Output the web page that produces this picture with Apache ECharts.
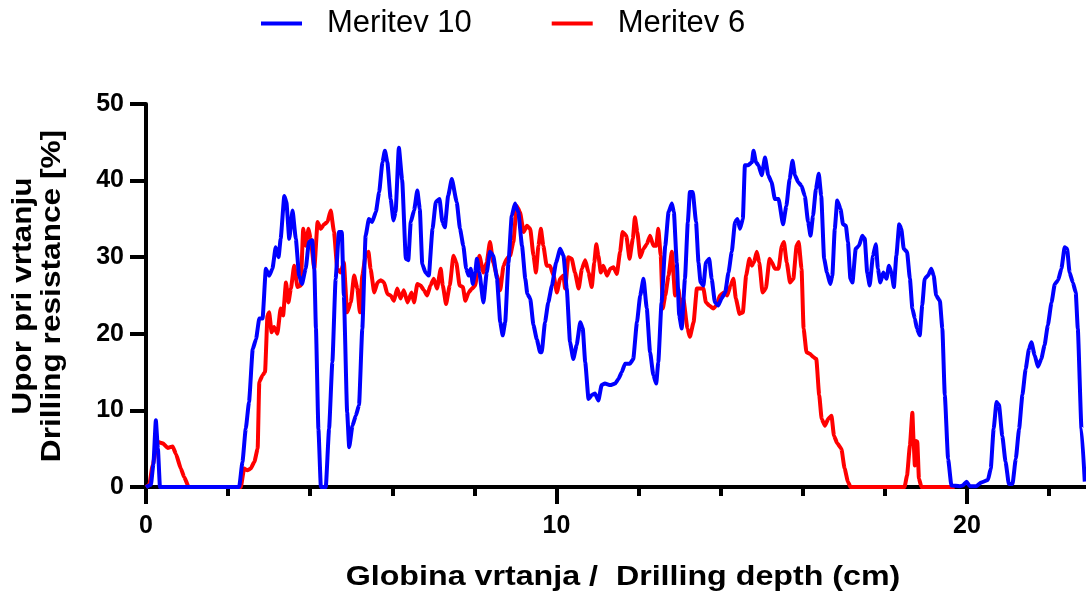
<!DOCTYPE html>
<html>
<head>
<meta charset="utf-8">
<script src="https://cdn.jsdelivr.net/npm/echarts@6/dist/echarts.min.js"></script>
<style>html,body{margin:0;padding:0;background:#fff}#c{width:1086px;height:597px}</style>
</head>
<body>
<div id="c"></div>
<script>
const seriesNames = ['Meritev 10', 'Meritev 6'];
const xMajorTicks = [0, 10, 20];
const xMinorTicks = [2, 4, 6, 8, 12, 14, 16, 18, 22];
const depth10 = [0,0.12,0.18,0.24,0.29,0.34,2.27,2.35,2.43,2.51,2.6,2.68,2.76,2.84,2.92,3.0,3.08,3.16,3.23,3.28,3.37,3.42,3.49,3.57,3.65,3.73,3.8,3.89,3.97,4.05,4.1,4.14,4.2,4.26,4.38,4.46,4.54,4.62,4.7,4.77,4.82,4.9,4.95,5.03,5.11,5.19,5.27,5.35,5.43,5.51,5.6,5.68,5.76,5.82,5.88,5.96,6.03,6.08,6.16,6.24,6.33,6.39,6.45,6.53,6.61,6.67,6.73,6.81,6.89,6.98,7.06,7.15,7.22,7.28,7.36,7.45,7.57,7.65,7.73,7.8,7.86,7.91,7.96,8.02,8.06,8.12,8.22,8.3,8.38,8.46,8.55,8.63,8.69,8.75,8.83,8.91,8.99,9.07,9.16,9.24,9.29,9.36,9.44,9.52,9.6,9.64,9.72,9.8,9.89,9.99,10.09,10.17,10.25,10.33,10.41,10.49,10.58,10.64,10.7,10.78,10.86,10.94,11.02,11.1,11.18,11.31,11.43,11.51,11.59,11.67,11.79,11.87,11.96,12.04,12.12,12.2,12.28,12.36,12.43,12.48,12.56,12.65,12.73,12.81,12.86,12.93,12.99,13.05,13.13,13.2,13.25,13.32,13.4,13.46,13.51,13.58,13.64,13.72,13.78,13.86,13.94,14.02,14.11,14.19,14.27,14.35,14.41,14.47,14.54,14.59,14.67,14.76,14.8,14.86,14.92,15.0,15.08,15.16,15.24,15.32,15.41,15.52,15.6,15.68,15.75,15.81,15.89,15.97,16.05,16.13,16.19,16.25,16.32,16.39,16.45,16.52,16.59,16.67,16.72,16.78,16.84,16.92,16.98,17.05,17.1,17.16,17.21,17.29,17.37,17.45,17.51,17.57,17.63,17.71,17.78,17.83,17.89,17.96,18.04,18.1,18.16,18.22,18.28,18.35,18.4,18.46,18.54,18.61,18.67,18.73,18.78,18.85,18.91,18.97,19.05,19.13,19.19,19.25,19.34,19.4,19.46,19.54,19.62,19.82,19.9,19.99,20.07,20.23,20.35,20.51,20.58,20.65,20.72,20.78,20.86,20.94,21.02,21.11,21.19,21.27,21.35,21.43,21.51,21.57,21.65,21.73,21.81,21.89,21.97,22.06,22.14,22.22,22.3,22.38,22.44,22.5,22.58,22.65,22.7,22.79,22.87];
const resistance10 = [0,0.3,3,8.7,5,0,0,3.3,7.6,11.1,18,19.3,22,22,28.5,27.6,28.5,31.3,30,32.4,38,37.2,32.4,36.1,32.4,27.6,26.5,28.5,32,32.2,28.5,20.7,7.6,0,0,7.6,16.3,27.2,33.3,33.3,25,9.8,5.2,8,9.3,10.7,20.7,32.8,35,34.6,35.9,38.5,42.4,43.9,42.4,37.6,34.8,35.9,44.3,40.1,29.8,29.6,34.6,36.1,38.7,36.3,29.1,28,27.6,33.7,37.2,37.6,34.6,33.9,38,40.2,37.2,33.7,31.5,28.5,27.6,28.5,26.5,28,29.8,28,24.1,28,30.7,30.2,27.2,21.5,19.8,21.5,29.3,35.4,37,35.9,31.5,27.2,25.2,24.6,21.1,19.3,17.6,17.6,21.5,24.1,26.3,29.3,31.1,30.2,25.9,18.9,16.7,18.5,21.5,20.7,16.3,11.5,12,12.2,11.3,13.3,13.5,13.3,13.5,14.1,15,16.1,16.1,16.7,21.5,25,27.2,23.3,17.6,14.6,13.5,16.3,24.1,31.5,35.9,37,35.9,29.3,22.4,20.7,27.2,34.6,38.5,38.5,34.6,29.3,26.7,26.3,29.3,29.8,27.2,24.1,23.7,24.6,25.4,28,30.7,34.6,35,33.7,35,42,42,42.4,43.9,42.4,42,40.7,43,40.7,39.8,37.6,37.6,34.3,36.7,40.2,42.6,40.7,39.8,39.3,38,34.6,32.8,35.4,38.9,40.9,38,29.8,28,26.5,27.6,33.7,37.4,36.3,34.3,34.1,32,27.2,26.7,31.1,31.5,32.8,32.4,28,26.3,30.2,31.7,28.5,26.7,28,27.2,28.9,28,26.1,30.2,34.3,33.7,31.1,30.7,27.2,23.3,22,20.7,19.8,23.7,27.2,27.6,28.5,27.6,25,24.3,20.7,12,3.7,0.2,0.1,0.2,0.7,0.1,0.1,0.6,0.9,2.4,7.6,11.1,10.7,6.7,3.3,0.4,0.4,3.7,7.6,12,15.4,18,18.9,17.2,15.7,16.7,18.5,21.1,24.1,26.5,27,28.5,31.3,31.1,28,26.7,25.4,20.7,7.6,0.7];
const depth6 = [0,0.08,0.16,0.28,0.41,0.53,0.65,0.73,0.85,0.93,1.04,2.31,2.39,2.47,2.55,2.64,2.72,2.76,2.84,2.9,2.96,3.0,3.06,3.12,3.2,3.28,3.34,3.41,3.47,3.53,3.61,3.69,3.77,3.83,3.89,3.96,4.01,4.1,4.18,4.26,4.34,4.42,4.5,4.58,4.66,4.74,4.82,4.9,4.99,5.07,5.15,5.21,5.27,5.35,5.42,5.47,5.56,5.64,5.72,5.8,5.88,5.96,6.04,6.12,6.2,6.28,6.37,6.47,6.53,6.61,6.69,6.77,6.85,6.93,7.01,7.09,7.18,7.23,7.31,7.4,7.49,7.56,7.64,7.72,7.78,7.86,7.94,8.02,8.12,8.22,8.3,8.38,8.46,8.55,8.63,8.71,8.79,8.87,8.95,9.03,9.11,9.2,9.28,9.36,9.44,9.5,9.56,9.62,9.68,9.76,9.84,9.93,10.01,10.09,10.17,10.21,10.29,10.37,10.45,10.54,10.62,10.7,10.78,10.86,10.92,10.97,11.02,11.08,11.14,11.23,11.31,11.39,11.47,11.55,11.61,11.7,11.78,11.86,11.91,11.97,12.04,12.12,12.2,12.28,12.36,12.43,12.48,12.54,12.59,12.65,12.73,12.81,12.89,12.97,13.04,13.09,13.19,13.25,13.34,13.42,13.5,13.58,13.64,13.72,13.82,13.9,13.98,14.08,14.16,14.24,14.31,14.37,14.46,14.54,14.62,14.7,14.76,14.81,14.88,14.94,15.02,15.1,15.19,15.25,15.32,15.41,15.49,15.54,15.61,15.69,15.77,15.85,15.9,15.97,16.02,16.09,16.17,16.25,16.33,16.4,16.46,16.54,16.62,16.7,16.76,16.84,16.94,17.02,17.1,17.16,18.48,18.54,18.61,18.67,18.7,18.73,18.76,18.79,18.83,18.89,19.7];
const resistance6 = [0,0.3,2.8,5.9,5.7,5.1,5.3,4.3,2.4,1.3,0,0,2.4,2.2,2.4,3.3,5,13.7,14.6,15,22.4,22.8,20.2,20.9,20,23.3,22.4,26.7,24.1,25.9,28.9,26.1,26.3,33.7,31.5,33.7,32.4,28.5,34.6,33.7,34.3,34.6,36.1,33.3,28.5,28,29.3,22.8,24.1,27.6,25.9,22.8,27.6,30.2,30.7,28.5,25.4,26.7,27,26.7,25.2,25,24.3,25.9,24.6,25.7,24.1,25.4,24.1,26.5,26.3,25.7,25,26.3,27.2,25.9,28.5,26.3,23.9,26.3,30.2,29.3,26.3,26.1,24.3,25.4,25.9,26.3,30.2,28,29.3,32,29.3,27.6,25.7,28.9,29.8,30.2,32,36.7,35.9,33.3,34.1,33.7,30.2,28,31.5,33.7,31.5,28.9,28.9,27.6,25.4,27.2,27.6,25.9,30,29.8,28,25.9,28.5,29.6,28,26.1,29.3,31.7,30.2,28,28.9,27.6,28.5,28.7,27.8,30.7,33.3,32.8,29.8,32.4,35.2,33.3,30,31.1,31.7,32.8,31.5,31.5,33.7,30.2,23.3,25,27.6,30.7,25,25.9,22.4,24.6,20.7,19.6,21.5,25.9,25.9,25.9,24.1,23.7,23.3,23.7,25,25.4,25,26.3,27.2,24.6,22.6,22.8,27.6,29.8,28.9,29.3,30.7,29.3,25.4,25.9,29.8,29.3,28.5,28.5,31.5,32,29.3,26.7,27.2,31.5,32,28.5,20.7,17.6,17.4,17,16.7,12,8.9,8,8.9,9.3,6.7,5.7,5,2.4,0.7,0,0,1.5,5.4,9.7,6,2.8,6,5.9,1.1,0,0];

const zip = (xs, ys) => xs.map((x, i) => [x, ys[i]]);
const FONT = '"Liberation Sans", Arial, Helvetica, sans-serif';

const chart = echarts.init(document.getElementById('c'), null, {renderer: 'canvas'});
chart.setOption({
  animation: false,
  backgroundColor: '#ffffff',
  grid: {left: 146, right: 0, top: 104, bottom: 110, containLabel: false},
  legend: {
    data: seriesNames,
    left: 261, top: 8, padding: 0,
    icon: 'rect', itemWidth: 41, itemHeight: 4, itemGap: 80,
    textStyle: {fontSize: 31, color: '#000', fontFamily: FONT, padding: [0, 0, 0, 20]}
  },
  xAxis: [{
    type: 'value', min: 0, max: 22.9,
    axisLine: {lineStyle: {color: '#000', width: 4}},
    axisTick: {customValues: xMajorTicks, length: 17, lineStyle: {color: '#000', width: 4}},
    axisLabel: {customValues: xMajorTicks, color: '#000', fontSize: 25, fontWeight: 'bold', fontFamily: FONT, margin: 27},
    splitLine: {show: false}
  }, {
    type: 'value', min: 0, max: 22.9, position: 'bottom',
    axisLine: {show: false},
    axisTick: {customValues: xMinorTicks, length: 9, lineStyle: {color: '#000', width: 4}},
    axisLabel: {show: false},
    splitLine: {show: false}
  }],
  yAxis: {
    type: 'value', min: 0, max: 50, interval: 10,
    axisLine: {show: true, lineStyle: {color: '#000', width: 4}},
    axisTick: {show: true, length: 16, lineStyle: {color: '#000', width: 4}},
    axisLabel: {color: '#000', fontSize: 25, fontWeight: 'bold', fontFamily: FONT, margin: 22},
    splitLine: {show: false}
  },
  graphic: [{
    type: 'text', x: 623, y: 577, scaleX: 1.15,
    style: {text: 'Globina vrtanja /  Drilling depth (cm)', fill: '#000', font: 'bold 28px ' + FONT, align: 'center', verticalAlign: 'middle'}
  }, {
    type: 'text', x: 38, y: 296, rotation: Math.PI / 2, scaleX: 1.13,
    style: {text: 'Upor pri vrtanju\nDrilling resistance [%]', fill: '#000', font: 'bold 28px ' + FONT, lineHeight: 29, align: 'center', verticalAlign: 'middle'}
  }],
  series: [{
    name: seriesNames[0], type: 'line', xAxisIndex: 0, data: zip(depth10, resistance10),
    showSymbol: false, symbol: 'none', color: '#0000ff', smooth: 0.15, smoothMonotone: 'x',
    lineStyle: {color: '#0000ff', width: 4, join: 'round'}, z: 3
  }, {
    name: seriesNames[1], type: 'line', xAxisIndex: 0, data: zip(depth6, resistance6),
    showSymbol: false, symbol: 'none', color: '#ff0000', smooth: 0.15, smoothMonotone: 'x',
    lineStyle: {color: '#ff0000', width: 4, join: 'round'}, z: 2
  }]
});
</script>
</body>
</html>
